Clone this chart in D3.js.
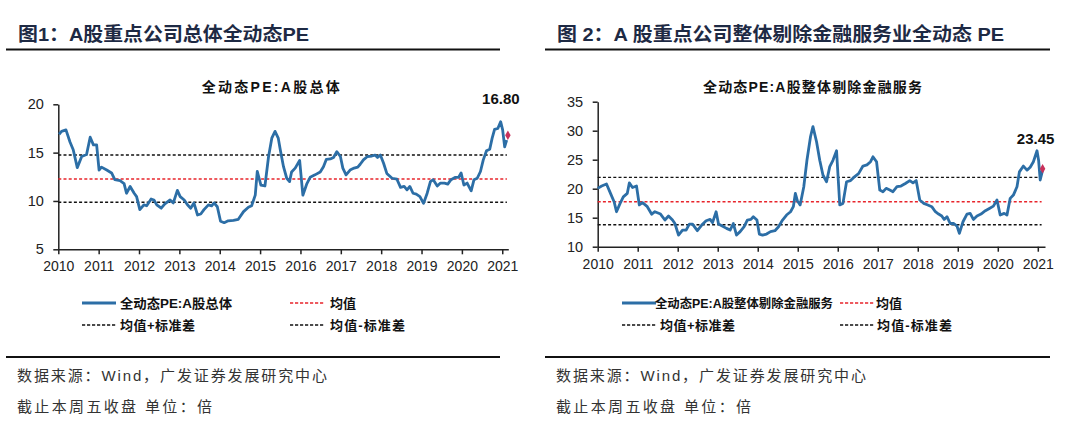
<!DOCTYPE html>
<html><head><meta charset="utf-8">
<script src="https://cdn.jsdelivr.net/npm/d3@7"></script>
<style>
html,body{margin:0;padding:0;background:#fff;}
svg{display:block;}
text{font-family:"Liberation Sans","Noto Sans CJK SC",Arial,sans-serif;}
</style></head>
<body>
<svg id="c" width="1080" height="434"></svg>
<script>
// ---------- Data ----------
const yearTicks = [2010,2011,2012,2013,2014,2015,2016,2017,2018,2019,2020,2021];

// Chart 1: A股总体 全动态PE (decimal year, value)
const dates1 = [2010.02,2010.08,2010.19,2010.29,2010.37,2010.47,2010.58,2010.70,2010.79,2010.87,2010.95,
2011.01,2011.07,2011.20,2011.32,2011.40,2011.53,2011.63,2011.69,2011.78,2011.88,2011.94,
2012.02,2012.12,2012.19,2012.30,2012.37,2012.44,2012.55,2012.64,2012.77,2012.85,2012.95,
2013.02,2013.12,2013.20,2013.28,2013.36,2013.45,2013.53,2013.61,2013.72,2013.80,2013.86,2013.94,
2014.02,2014.11,2014.21,2014.34,2014.46,2014.59,2014.71,2014.79,2014.88,2014.93,
2015.02,2015.12,2015.21,2015.29,2015.37,2015.45,2015.50,2015.58,2015.66,2015.73,2015.78,2015.87,2015.98,
2016.06,2016.16,2016.24,2016.36,2016.49,2016.57,2016.64,2016.74,2016.82,2016.90,2016.99,
2017.05,2017.13,2017.23,2017.33,2017.42,2017.48,2017.56,2017.66,2017.77,2017.85,2017.91,2017.98,
2018.06,2018.14,2018.27,2018.39,2018.48,2018.57,2018.64,2018.71,2018.79,2018.87,2018.96,
2019.05,2019.14,2019.22,2019.29,2019.39,2019.47,2019.57,2019.65,2019.73,2019.84,2019.92,2019.98,
2020.05,2020.13,2020.23,2020.30,2020.38,2020.46,2020.53,2020.61,2020.69,2020.75,2020.81,2020.89,2020.96,
2021.01,2021.06,2021.11];
const values1 = [16.9,17.2,17.35,16.1,15.3,13.45,14.6,14.8,16.6,15.8,15.8,
13.2,13.5,13.2,12.9,12.2,12.1,11.8,10.8,11.5,10.8,10.45,
9.1,9.6,9.5,10.2,10.1,9.6,9.25,9.7,10.1,9.8,11.1,
10.45,10.1,9.6,9.25,9.8,8.55,8.65,9.1,9.6,9.5,9.8,9.4,
7.9,7.75,7.95,8.0,8.1,8.9,9.35,9.5,10.6,13.05,
11.65,11.55,14.6,16.5,17.2,16.5,15.3,13.55,12.35,12.0,13.0,13.4,14.2,
10.6,11.8,12.45,12.7,13.0,13.55,14.3,14.35,14.5,15.1,14.6,
13.4,12.7,13.2,13.4,13.5,13.8,14.25,14.6,14.65,14.75,14.5,14.75,
13.9,12.85,12.35,12.25,11.4,11.5,11.15,11.5,10.8,10.7,10.45,
9.75,10.8,12.0,12.2,11.55,11.85,11.85,11.75,12.2,12.45,12.45,12.9,
11.65,11.85,11.05,12.2,12.35,13.05,14.25,15.2,15.35,16.5,17.4,17.5,18.2,
17.35,15.6,16.3];
const last1 = {date: 2021.14, value: 16.80, label: "16.80"};
const stats1 = {mean: 12.27, upper: 14.76, lower: 9.86};
const yTicks1 = [5,10,15,20];

// Chart 2: A股整体剔除金融服务 全动态PE
const dates2 = [2010.0,2010.1,2010.22,2010.32,2010.41,2010.47,2010.56,2010.64,2010.74,2010.79,2010.87,2010.97,
2011.04,2011.12,2011.24,2011.35,2011.43,2011.57,2011.68,2011.77,2011.87,2011.93,
2012.02,2012.12,2012.21,2012.29,2012.37,2012.49,2012.6,2012.71,2012.81,2012.87,2012.96,
2013.02,2013.1,2013.22,2013.31,2013.39,2013.47,2013.56,2013.66,2013.74,2013.83,2013.89,2013.98,
2014.04,2014.12,2014.22,2014.32,2014.43,2014.52,2014.62,2014.72,2014.82,2014.89,2014.94,2014.99,
2015.06,2015.15,2015.23,2015.32,2015.38,2015.47,2015.55,2015.63,2015.72,2015.8,2015.88,2015.97,
2016.05,2016.13,2016.22,2016.32,2016.4,2016.52,2016.63,2016.73,2016.82,2016.88,2016.97,
2017.05,2017.13,2017.21,2017.3,2017.38,2017.48,2017.58,2017.69,2017.8,2017.88,2017.96,
2018.05,2018.15,2018.25,2018.35,2018.44,2018.52,2018.6,2018.66,2018.73,2018.81,2018.9,2018.98,
2019.04,2019.13,2019.23,2019.31,2019.39,2019.48,2019.58,2019.69,2019.79,2019.89,2019.98,
2020.06,2020.16,2020.23,2020.31,2020.39,2020.48,2020.54,2020.64,2020.73,2020.81,2020.89,2020.98,
2021.02,2021.06,2021.12];
const values2 = [20.06,20.46,20.8,19.2,17.76,16.03,17.47,18.6,19.2,21.0,20.2,20.46,
17.2,17.6,16.9,15.6,16.03,15.63,14.6,15.3,14.6,14.0,
12.0,12.87,12.87,13.9,13.9,12.76,13.73,14.48,14.7,14.14,16.03,
13.9,13.6,13.16,12.87,14.0,12.0,12.6,13.45,14.6,14.7,15.17,14.6,
12.18,12.0,12.18,12.6,12.76,13.45,14.6,15.46,16.03,16.9,19.2,17.93,
17.2,20.3,24.9,29.0,30.7,28.1,24.9,22.36,21.2,23.8,24.9,26.55,
17.2,17.47,21.2,21.4,21.95,22.6,23.9,24.1,24.65,25.5,24.65,
19.77,19.48,20.06,19.77,19.48,20.34,20.46,20.9,21.4,21.0,21.4,
18.05,17.47,17.2,16.9,16.03,15.63,15.3,14.7,15.17,14.0,14.0,13.56,
12.3,14.3,15.63,15.75,14.7,15.3,15.63,16.2,16.6,17.0,18.05,
15.46,15.75,15.46,18.33,18.9,20.34,22.9,23.9,23.2,23.7,24.65,26.55,
24.9,21.5,23.2];
const last2 = {date: 2021.12, value: 23.45, label: "23.45"};
const stats2 = {mean: 17.76, upper: 21.96, lower: 13.79};
const yTicks2 = [10,15,20,25,30,35];

const headers = ["图1：A股重点公司总体全动态PE", "图 2：A 股重点公司整体剔除金融服务业全动态 PE"];
const chartTitles = ["全动态PE:A股总体", "全动态PE:A股整体剔除金融服务"];
const legendLabels = [["全动态PE:A股总体","均值","均值+标准差","均值-标准差"],
                      ["全动态PE:A股整体剔除金融服务","均值","均值+标准差","均值-标准差"]];
const sourceText = "数据来源：Wind，广发证券发展研究中心";
const noteText = "截止本周五收盘 单位：倍";

// ---------- Drawing ----------
const svg = d3.select("#c");
const BLUE = "#2c6ea6";

const panels = [
  {dates:dates1, values:values1, last:last1, stats:stats1, yTicks:yTicks1, yDom:[5,20],
   x0:58.3, x1:508.3, yTop:104.3, yBot:249.3, xMax:2021.15,
   headerX:18, headerLen:291, ruleX:[6,500], titleX:201.7, titleLen:138,
   leg:{lineX:82, textX:120, len0:112, fs0:13, redX:290, redText:330, y1:303, y2:325, blackX2:290, text2X:330},
   foot:{x:17, rule:[6,500]}},
  {dates:dates2, values:values2, last:last2, stats:stats2, yTicks:yTicks2, yDom:[10,35],
   x0:597.7, x1:1045, yTop:101.7, yBot:246.7, xMax:2021.18,
   headerX:557, headerLen:447, ruleX:[545,1050], titleX:703, titleLen:219,
   leg:{lineX:622, textX:655, len0:178, fs0:12.5, redX:840, redText:876, y1:303, y2:325, blackX2:840, text2X:877},
   foot:{x:556, rule:[545,1050]}}
];

panels.forEach((p,i) => {
  const g = svg.append("g");
  // header
  g.append("text").attr("x", p.headerX).attr("y", 41)
    .attr("font-size", 19).attr("font-weight", "bold").attr("fill", "#1e2a44")
    .attr("textLength", p.headerLen).attr("lengthAdjust","spacingAndGlyphs")
    .text(headers[i]);
  g.append("line").attr("x1", p.ruleX[0]).attr("x2", p.ruleX[1]).attr("y1", 49.5).attr("y2", 49.5)
    .attr("stroke", "#111").attr("stroke-width", 2);

  // chart title
  g.append("text").attr("x", p.titleX).attr("y", 92)
    .attr("font-size", 14).attr("fill", "#111").attr("font-weight","bold")
    .attr("textLength", p.titleLen).attr("lengthAdjust","spacing")
    .text(chartTitles[i]);

  const x = d3.scaleLinear().domain([2010, p.xMax]).range([p.x0, p.x1]);
  const y = d3.scaleLinear().domain(p.yDom).range([p.yBot, p.yTop]);

  // axes
  const xAxis = d3.axisBottom(x).tickValues(yearTicks).tickFormat(d3.format("d")).tickSize(5).tickSizeOuter(0);
  const gx = g.append("g").attr("transform", `translate(0,${p.yBot})`).call(xAxis);
  gx.select(".domain").attr("stroke","#222").attr("stroke-width",1.5);
  gx.selectAll(".tick line").attr("stroke","#222").attr("stroke-width",1.5);
  gx.selectAll(".tick text").attr("font-size",14).attr("fill","#222").attr("dy","1.0em")
    .attr("font-family","Liberation Sans, Arial, sans-serif");

  const yAxis = d3.axisLeft(y).tickValues(p.yTicks).tickSize(5).tickSizeOuter(0);
  const gy = g.append("g").attr("transform", `translate(${p.x0},0)`).call(yAxis);
  gy.select(".domain").attr("stroke","#222").attr("stroke-width",1.5);
  gy.selectAll(".tick line").attr("stroke","#222").attr("stroke-width",1.5);
  gy.selectAll(".tick text").attr("font-size",14.5).attr("fill","#222").attr("dx","-0.45em")
    .attr("font-family","Liberation Sans, Arial, sans-serif");

  // reference lines
  const refEnd = x(p.last.date) - 1;
  [[p.stats.upper,"#111"],[p.stats.mean,"#e8242b"],[p.stats.lower,"#111"]].forEach(([v,c]) => {
    g.append("line").attr("x1", p.x0).attr("x2", refEnd)
      .attr("y1", y(v)).attr("y2", y(v))
      .attr("stroke", c).attr("stroke-width", 1.4).attr("stroke-dasharray","3,2.2");
  });

  // series
  const pts = p.dates.map((d,k)=>[d,p.values[k]]);
  g.append("path").datum(pts)
    .attr("fill","none").attr("stroke",BLUE).attr("stroke-width",2.8)
    .attr("stroke-linejoin","round")
    .attr("d", d3.line().x(d=>x(d[0])).y(d=>y(d[1])));

  // latest marker
  const mx = x(p.last.date), my = y(p.last.value);
  g.append("path").attr("d", d3.symbol(d3.symbolDiamond, 26)())
    .attr("transform", `translate(${mx},${my})`).attr("fill","#c8315a");
  g.append("text").attr("x", mx - 7).attr("y", my - (i===0 ? 31 : 25))
    .attr("text-anchor","middle").attr("font-size",15).attr("font-weight","bold").attr("fill","#111")
    .text(p.last.label);

  // legend
  const L = p.leg, labs = legendLabels[i];
  g.append("line").attr("x1",L.lineX).attr("x2",L.lineX+34).attr("y1",L.y1).attr("y2",L.y1)
    .attr("stroke",BLUE).attr("stroke-width",3);
  g.append("text").attr("x",L.textX).attr("y",L.y1+5).attr("font-size",L.fs0).attr("font-weight","bold")
    .attr("fill","#111").attr("textLength",L.len0).attr("lengthAdjust","spacingAndGlyphs").text(labs[0]);
  const dashLeg = (x1,yy,c) => g.append("line").attr("x1",x1).attr("x2",x1+35).attr("y1",yy).attr("y2",yy)
    .attr("stroke",c).attr("stroke-width",1.3).attr("stroke-dasharray","3.2,1.8");
  dashLeg(L.redX, L.y1, "#e8242b");
  g.append("text").attr("x",L.redText).attr("y",L.y1+5).attr("font-size",13).attr("font-weight","bold")
    .attr("fill","#111").text(labs[1]);
  dashLeg(L.lineX, L.y2, "#111");
  g.append("text").attr("x",L.lineX+38).attr("y",L.y2+5).attr("font-size",13).attr("font-weight","bold")
    .attr("fill","#111").attr("textLength",75).attr("lengthAdjust","spacing").text(labs[2]);
  dashLeg(L.blackX2, L.y2, "#111");
  g.append("text").attr("x",L.text2X).attr("y",L.y2+5).attr("font-size",13).attr("font-weight","bold")
    .attr("fill","#111").attr("textLength",75).attr("lengthAdjust","spacing").text(labs[3]);

  // footer
  g.append("line").attr("x1",p.foot.rule[0]).attr("x2",p.foot.rule[1]).attr("y1",357).attr("y2",357)
    .attr("stroke","#111").attr("stroke-width",2);
  g.append("text").attr("x",p.foot.x).attr("y",381).attr("font-size",15).attr("fill","#333")
    .attr("textLength",310).attr("lengthAdjust","spacing").text(sourceText);
  g.append("text").attr("x",p.foot.x).attr("y",412).attr("font-size",15).attr("fill","#333")
    .attr("textLength",195).attr("lengthAdjust","spacing").text(noteText);
});
</script>
</body></html>
